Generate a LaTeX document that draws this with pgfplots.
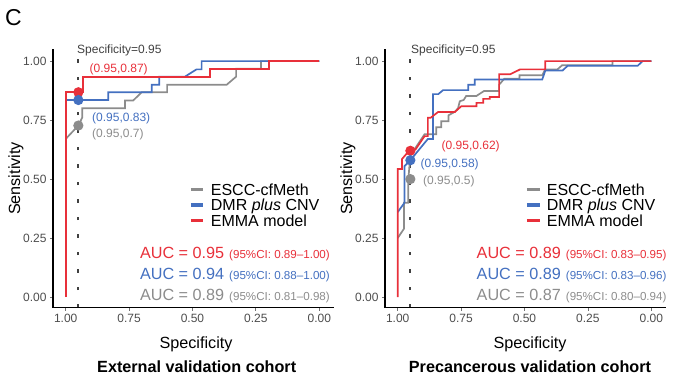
\documentclass[border=0pt]{standalone}
\usepackage{pgfplots}
\pgfplotsset{compat=1.18}
\usepackage{fontspec}
\setmainfont{Liberation Sans}
\definecolor{cred}{HTML}{E8303A}
\definecolor{cblue}{HTML}{4470C0}
\definecolor{cgray}{HTML}{8C8C8C}
\definecolor{tickgray}{HTML}{4D4D4D}
\pgfplotsset{rocax/.style={
  scale only axis, width=280bp, height=258.4bp,
  x dir=reverse, xmin=-0.054, xmax=1.05, ymin=-0.045, ymax=1.05,
  xtick={1,0.75,0.5,0.25,0}, xticklabels={1.00,0.75,0.50,0.25,0.00},
  ytick={0,0.25,0.5,0.75,1}, yticklabels={0.00,0.25,0.50,0.75,1.00},
  axis line style={draw=none},
  tick align=outside, tick pos=left,
  major tick length=3bp, tick style={line width=0.8bp, color=black!55},
  ticklabel style={font=\fontsize{12bp}{12bp}\selectfont, text=tickgray},
  clip=false,
  legend style={draw=none, fill=none, inner sep=0pt, outer sep=0pt,
    font=\fontsize{16bp}{16bp}\selectfont, cells={anchor=west},
    row sep=0pt, column sep=5.6bp,
    nodes={inner sep=0pt, text height=13.5bp, text depth=2bp}},
  legend image code/.code={\draw[#1, line width=3.6bp] (0bp,0bp) -- (12.7bp,0bp);},
  legend cell align=left,
  every axis plot/.append style={line width=1.7bp},
  after end axis/.code={\draw[line width=1.5bp, line cap=rect] (axis description cs:0,1) -- (axis description cs:0,0) -- (axis description cs:1,0);}
}}
\begin{document}
\begin{tikzpicture}
\useasboundingbox (0,0) rectangle (687bp,-384bp);
% ---------------- Left panel ----------------
\begin{axis}[rocax, at={(53bp,-307.7bp)}, anchor=south west,
  legend style={at={(axis description cs:0.4857,0.488)}, anchor=north west}]
\addplot[color=black!75, line width=1.8bp, dash pattern=on 3.5bp off 14bp, forget plot] coordinates {(0.95,-0.045) (0.95,1.05)};
\addplot[cgray] coordinates {(1,0.67) (0.95,0.727) (0.935,0.76) (0.935,0.80) (0.766,0.80) (0.766,0.833) (0.734,0.833) (0.70,0.868) (0.60,0.868) (0.60,0.90) (0.365,0.90) (0.328,0.934) (0.328,0.968) (0.23,0.968) (0.23,1) (0,1)};
\addplot[cblue] coordinates {(1,0.835) (0.832,0.835) (0.832,0.868) (0.661,0.868) (0.661,0.90) (0.631,0.90) (0.631,0.934) (0.53,0.934) (0.484,0.965) (0.464,0.965) (0.464,1) (0,1)};
\addplot[cred] coordinates {(1,0) (1,0.868) (0.932,0.868) (0.932,0.934) (0.431,0.934) (0.431,0.968) (0.197,0.968) (0.197,1) (0,1)};
\addplot[only marks, mark=*, mark size=4.2bp, color=cred, forget plot] coordinates {(0.95,0.868)};
\addplot[only marks, mark=*, mark size=4.2bp, color=cblue, forget plot] coordinates {(0.95,0.835)};
\addplot[only marks, mark=*, mark size=4.2bp, color=cgray, forget plot] coordinates {(0.95,0.727)};
\legend{ESCC-cfMeth, DMR \textit{plus} CNV, EMMA model}
\end{axis}
% ---------------- Right panel ----------------
\begin{axis}[rocax, at={(385bp,-307.7bp)}, anchor=south west,
  legend style={at={(axis description cs:0.5,0.488)}, anchor=north west}]
\addplot[color=black!75, line width=1.8bp, dash pattern=on 3.5bp off 14bp, forget plot] coordinates {(0.95,-0.045) (0.95,1.05)};
\addplot[cgray] coordinates {(1,0.25) (0.975,0.29) (0.975,0.40) (0.958,0.40) (0.958,0.50) (0.95,0.60) (0.894,0.69) (0.848,0.69) (0.848,0.72) (0.828,0.72) (0.828,0.745) (0.80,0.745) (0.80,0.77) (0.775,0.785) (0.762,0.80) (0.755,0.83) (0.74,0.835) (0.73,0.852) (0.69,0.852) (0.66,0.873) (0.60,0.873) (0.60,0.90) (0.58,0.925) (0.52,0.925) (0.52,0.94) (0.43,0.94) (0.418,0.965) (0.37,0.965) (0.352,0.982) (0.153,0.982) (0.153,1) (0,1)};
\addplot[cblue] coordinates {(1,0.36) (0.973,0.40) (0.973,0.555) (0.95,0.58) (0.881,0.67) (0.861,0.67) (0.861,0.86) (0.84,0.86) (0.821,0.877) (0.722,0.877) (0.722,0.90) (0.696,0.90) (0.696,0.922) (0.43,0.922) (0.418,0.96) (0.35,0.96) (0.33,0.98) (0.054,0.98) (0.034,1) (0,1)};
\addplot[cred] coordinates {(1,0) (1,0.543) (0.983,0.543) (0.983,0.585) (0.955,0.62) (0.93,0.625) (0.894,0.682) (0.881,0.682) (0.881,0.76) (0.87,0.76) (0.841,0.784) (0.775,0.784) (0.749,0.809) (0.689,0.809) (0.689,0.823) (0.663,0.823) (0.663,0.84) (0.637,0.84) (0.637,0.848) (0.60,0.848) (0.60,0.944) (0.557,0.944) (0.517,0.965) (0.418,0.965) (0.418,1) (0,1)};
\addplot[only marks, mark=*, mark size=4.2bp, color=cred, forget plot] coordinates {(0.95,0.62)};
\addplot[only marks, mark=*, mark size=4.2bp, color=cblue, forget plot] coordinates {(0.95,0.58)};
\addplot[only marks, mark=*, mark size=4.2bp, color=cgray, forget plot] coordinates {(0.95,0.50)};
\legend{ESCC-cfMeth, DMR \textit{plus} CNV, EMMA model}
\end{axis}
% ---------------- Texts ----------------
\node[anchor=base west, inner sep=0pt] at (5bp,-25bp) {\fontsize{23bp}{23bp}\selectfont C};
\begin{scope}[every node/.style={inner sep=0pt}]
\node[anchor=base west, text=black!75] at (77bp,-53.3bp) {\fontsize{12bp}{12bp}\selectfont Specificity=0.95};
\node[anchor=base west, text=black!75] at (411bp,-53.3bp) {\fontsize{12bp}{12bp}\selectfont Specificity=0.95};
\node[anchor=base west, text=cred] at (89.5bp,-72bp) {\fontsize{12bp}{12bp}\selectfont (0.95,0.87)};
\node[anchor=base west, text=cblue] at (92bp,-121bp) {\fontsize{12bp}{12bp}\selectfont (0.95,0.83)};
\node[anchor=base west, text=cgray] at (92bp,-137bp) {\fontsize{12bp}{12bp}\selectfont (0.95,0.7)};
\node[anchor=base west, text=cred] at (441.5bp,-149.5bp) {\fontsize{12bp}{12bp}\selectfont (0.95,0.62)};
\node[anchor=base west, text=cblue] at (420.5bp,-167bp) {\fontsize{12bp}{12bp}\selectfont (0.95,0.58)};
\node[anchor=base west, text=cgray] at (423bp,-184.7bp) {\fontsize{12bp}{12bp}\selectfont (0.95,0.5)};
% AUC left
\node[anchor=base east, text=cred] at (330bp,-258.3bp) {\fontsize{16.2bp}{16bp}\selectfont AUC = 0.95\hspace{5bp}\fontsize{11.6bp}{12bp}\selectfont(95\%CI: 0.89--1.00)};
\node[anchor=base east, text=cblue] at (330bp,-279.3bp) {\fontsize{16.2bp}{16bp}\selectfont AUC = 0.94\hspace{5bp}\fontsize{11.6bp}{12bp}\selectfont(95\%CI: 0.88--1.00)};
\node[anchor=base east, text=cgray] at (330bp,-300.7bp) {\fontsize{16.2bp}{16bp}\selectfont AUC = 0.89\hspace{5bp}\fontsize{11.6bp}{12bp}\selectfont(95\%CI: 0.81--0.98)};
% AUC right
\node[anchor=base east, text=cred] at (666.7bp,-258.3bp) {\fontsize{16.2bp}{16bp}\selectfont AUC = 0.89\hspace{5bp}\fontsize{11.6bp}{12bp}\selectfont(95\%CI: 0.83--0.95)};
\node[anchor=base east, text=cblue] at (666.7bp,-279.3bp) {\fontsize{16.2bp}{16bp}\selectfont AUC = 0.89\hspace{5bp}\fontsize{11.6bp}{12bp}\selectfont(95\%CI: 0.83--0.96)};
\node[anchor=base east, text=cgray] at (666.7bp,-300.7bp) {\fontsize{16.2bp}{16bp}\selectfont AUC = 0.87\hspace{5bp}\fontsize{11.6bp}{12bp}\selectfont(95\%CI: 0.80--0.94)};
% axis titles
\node[anchor=base] at (196bp,-348.3bp) {\fontsize{16.2bp}{16bp}\selectfont Specificity};
\node[anchor=base] at (530bp,-348.3bp) {\fontsize{16.2bp}{16bp}\selectfont Specificity};
\node[anchor=base, rotate=90] at (20bp,-178.5bp) {\fontsize{16.2bp}{16bp}\selectfont Sensitivity};
\node[anchor=base, rotate=90] at (352bp,-178.5bp) {\fontsize{16.2bp}{16bp}\selectfont Sensitivity};
\node[anchor=base] at (196.7bp,-372bp) {\fontsize{16.2bp}{16bp}\selectfont\bfseries External validation cohort};
\node[anchor=base] at (530bp,-372bp) {\fontsize{16.2bp}{16bp}\selectfont\bfseries Precancerous validation cohort};
\end{scope}
\end{tikzpicture}
\end{document}
